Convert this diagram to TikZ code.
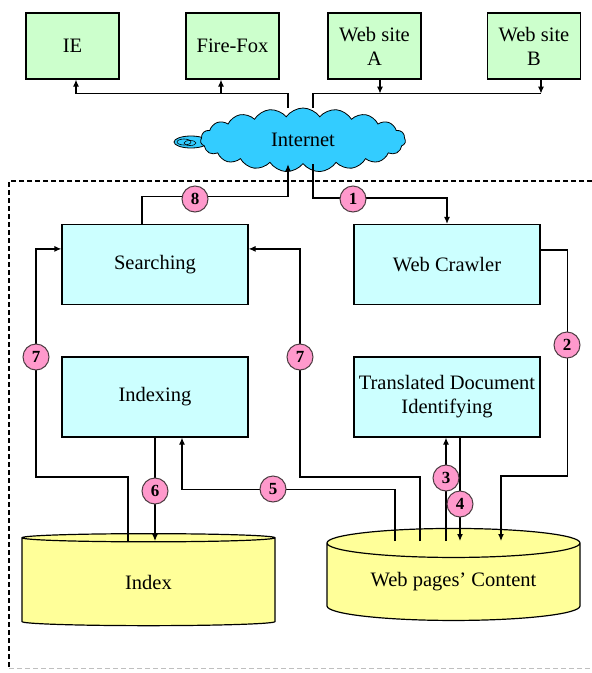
\documentclass[tikz,border=0pt]{standalone}
\usepackage{fontspec}
\setmainfont{Liberation Serif}
\usetikzlibrary{shapes.geometric,shapes.symbols,arrows.meta,calc}

\definecolor{sitegreen}{HTML}{CCFFCC}
\definecolor{unitcyan}{HTML}{CCFFFF}
\definecolor{netblue}{HTML}{33CCFF}
\definecolor{storeyellow}{HTML}{FFFF99}
\definecolor{ballpink}{HTML}{FF99CC}

\tikzset{
    site/.style={draw, line width=1.2pt, fill=sitegreen, minimum width=93, minimum height=66, align=center, inner sep=1},
    unit/.style={draw, line width=1.2pt, fill=unitcyan, minimum width=186, minimum height=80, align=center, inner sep=1},
    store/.style={draw, line width=1.2pt, fill=storeyellow, cylinder, shape border rotate=90, aspect=0.175, minimum width=253, minimum height=92, inner sep=0},
    ball/.style={draw=black!80!magenta, line width=1pt, circle, fill=ballpink, minimum size=26, inner sep=0, font=\fontsize{17}{17}\selectfont\bfseries},
    flow/.style={line width=1.2pt},
    arr/.style={flow, -{Latex[length=7,width=6]}}
}

\begin{document}
\begin{tikzpicture}[x=1pt, y=-1pt, font=\fontsize{20.5}{24}\selectfont]
    \useasboundingbox (0,0) rectangle (592,673);
    \clip (0,0) rectangle (592,673);

    % browsers and web sites
    \node[site] (ie) at (72.5,46) {IE};
    \node[site] (ff) at (232.5,46) {Fire-Fox};
    \node[site] (wa) at (374.5,46) {Web site\\A};
    \node[site] (wb) at (534,46) {Web site\\B};

    % internet
    \draw[line width=0.8pt, fill=netblue] (191,142) ellipse [x radius=17, y radius=6];
    \draw[line width=0.6pt] (184,142) ellipse [x radius=7, y radius=3];
    \draw[line width=0.6pt] (190,143) ellipse [x radius=6, y radius=2.5];
    \node[cloud, draw, line width=0.8pt, fill=netblue, cloud puffs=19, cloud puff arc=110, aspect=3.3, minimum width=205, minimum height=64, inner sep=0] (net) at (303,140) {Internet};

    % search engine boundary
    \draw[flow, dash pattern=on 5pt off 3pt] (600,181) -- (9,181) -- (9,668);
    \draw[black!25, dash pattern=on 5pt off 3pt] (9,668) -- (600,668);

    % components
    \node[unit] (srch) at (155,264.5) {Searching};
    \node[unit] (crawl) at (447,264.5) {Web Crawler};
    \node[unit] (indx) at (155,397) {Indexing};
    \node[unit] (trans) at (447,397) {Translated Document\\Identifying};

    % stores
    \node[store] (idx) at (148.5,582) {Index};
    \node[store] (pages) at (453.5,582) {Web pages’ Content};
    \coordinate (idxtop) at (148.5,541);
    \coordinate (webtop) at (453.5,541);

    % internet links
    \draw[flow] (net.north -| 288,0) |- ($(ie.south)+(3.5,14)$);
    \draw[arr] ($(ie.south)+(3.5,14)$) -- (ie.south -| 76,0);
    \draw[arr] ($(ff.south)+(-11.5,14)$) -- (ff.south -| 221,0);
    \draw[flow] (net.north -| 313,0) |- ($(wb.south)+(7,14)$);
    \draw[arr] (wa.south -| 380,0) -- ++(0,14);
    \draw[arr] (wb.south -| 541,0) -- ++(0,14);

    % numbered flows
    \draw[arr] (net.south -| 313,0) |- ($(crawl.north)+(0,-26)$) -- (crawl.north);
    \draw[arr] ($(crawl.north east)+(0,26)$) -| ++(27,226) -| (webtop -| 501,0);
    \draw[arr] (webtop -| 446,0) -- (trans.south -| 446,0);
    \draw[arr] (trans.south -| 460,0) -- (webtop -| 460,0);
    \draw[arr] (webtop -| 395,0) |- ($(indx.south -| 182,0)+(0,52)$) -- (indx.south -| 182,0);
    \draw[arr] (indx.south) -- (idxtop -| indx.south);
    \draw[arr] (idxtop -| 128,0) |- ++(-92,-64) |- ($(srch.north west)+(0,25)$);
    \draw[arr] (webtop -| 420,0) |- ++(-120,-64) |- ($(srch.north east)+(0,25)$);
    \draw[arr] (srch.north -| 142,0) |- ($(net.south -| 288,0)+(0,32)$) -- (net.south -| 288,0);

    \node[ball] (b1) at (353,199) {1};
    \node[ball] (b2) at (567,345) {2};
    \node[ball] (b3) at (446,478) {3};
    \node[ball] (b4) at (460,504) {4};
    \node[ball] (b5) at (273,489) {5};
    \node[ball] (b6) at (155,491) {6};
    \node[ball] (b7l) at (36,357) {7};
    \node[ball] (b7r) at (300,357) {7};
    \node[ball] (b8) at (195,199) {8};
\end{tikzpicture}
\end{document}
